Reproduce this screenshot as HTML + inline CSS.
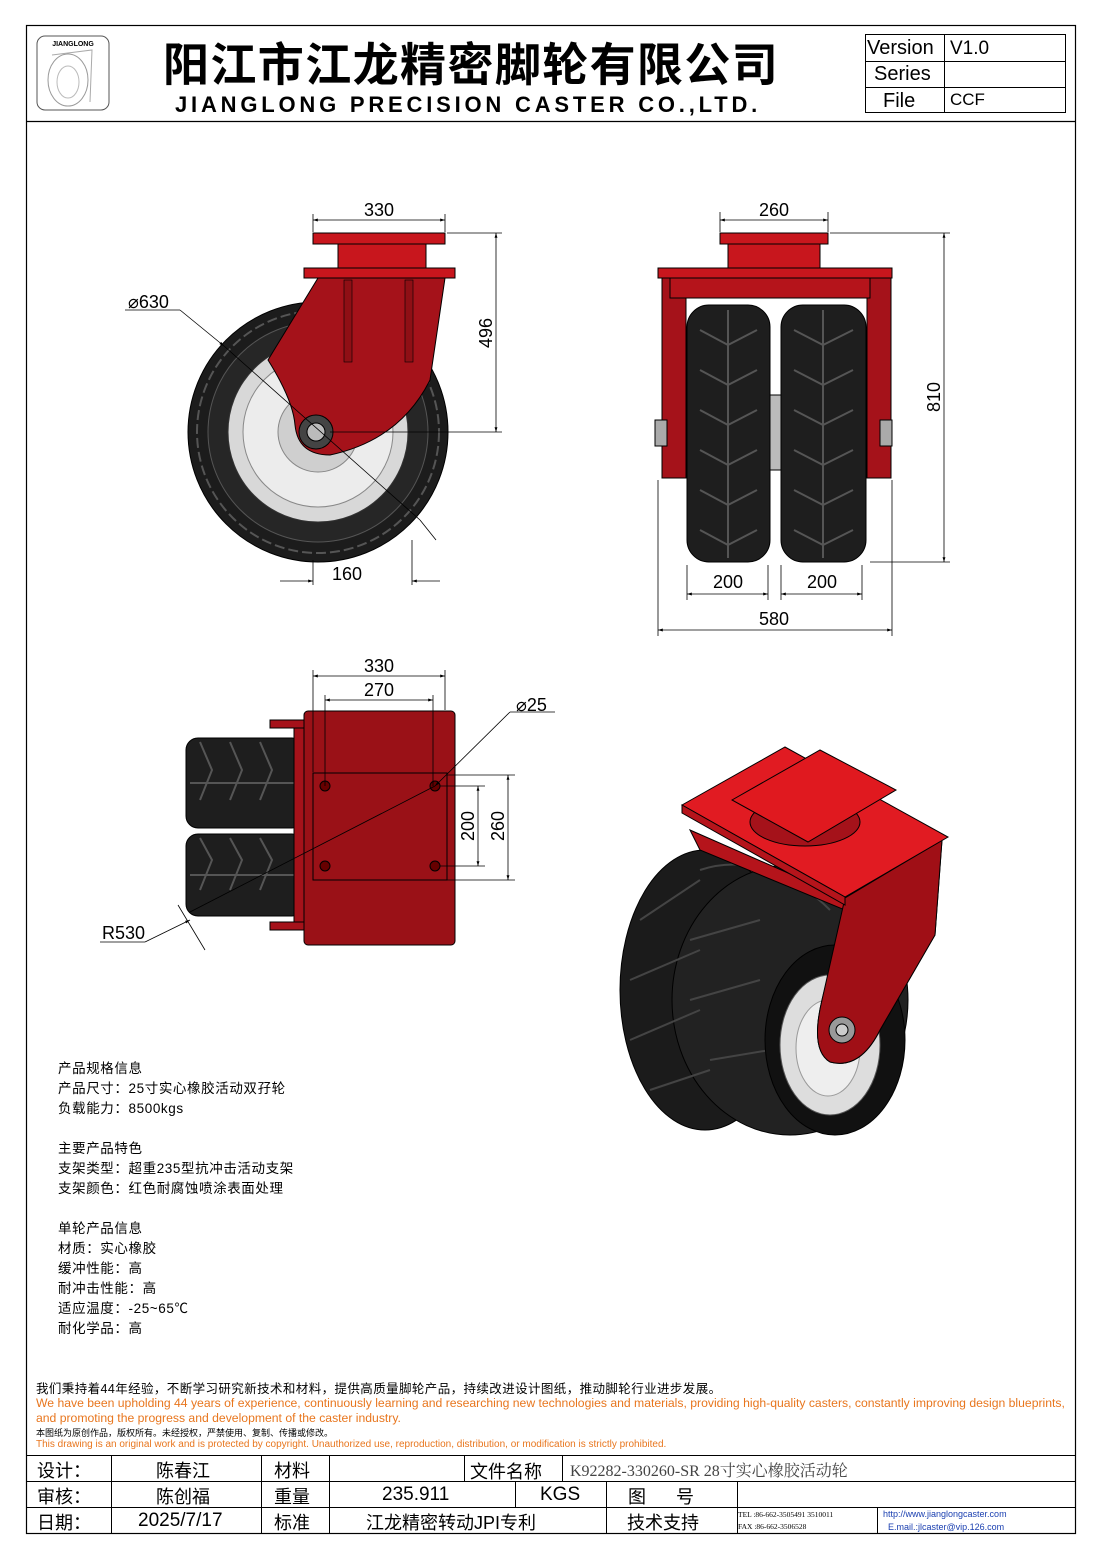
<!DOCTYPE html>
<html><head><meta charset="utf-8">
<style>
html,body{margin:0;padding:0;background:#fff;}
body{width:1102px;height:1559px;position:relative;overflow:hidden;font-family:"Liberation Sans","Noto Sans CJK SC",sans-serif;}
.t{position:absolute;white-space:nowrap;}
.c{font-family:"Liberation Sans","Noto Sans CJK SC",sans-serif;}
</style></head><body>
<svg width="1102" height="1559" style="position:absolute;left:0;top:0" font-family="Liberation Sans, Noto Sans CJK SC, sans-serif">
<defs>
<marker id="a" viewBox="0 0 10 10" refX="10" refY="5" markerWidth="8" markerHeight="6" orient="auto-start-reverse"><path d="M0,2 L10,5 L0,8z" fill="#000"/></marker>
</defs>
<rect x="26.5" y="25.5" width="1049" height="1508" fill="none" stroke="#000" stroke-width="1.2"/>
<line x1="26" y1="121.5" x2="1076" y2="121.5" stroke="#000" stroke-width="1.2"/>
<rect x="37" y="36" width="72" height="74" rx="8" fill="none" stroke="#555" stroke-width="1"/>
<text x="73" y="46" font-size="7" font-weight="bold" text-anchor="middle">JIANGLONG</text>
<ellipse cx="68" cy="80" rx="20" ry="26" fill="none" stroke="#999"/>
<ellipse cx="68" cy="82" rx="11" ry="16" fill="none" stroke="#bbb"/>
<path d="M52,55 L92,50 L90,102" fill="none" stroke="#aaa"/>
<rect x="865.5" y="34.5" width="200" height="78" fill="none" stroke="#000"/>
<line x1="944.5" y1="34" x2="944.5" y2="113" stroke="#000"/>
<line x1="865" y1="61.5" x2="1066" y2="61.5" stroke="#000"/>
<line x1="865" y1="87.5" x2="1066" y2="87.5" stroke="#000"/>

<!-- side view -->
<circle cx="318" cy="432" r="130" fill="#1c1c1c" stroke="#000"/>
<circle cx="318" cy="432" r="121" fill="none" stroke="#555" stroke-width="2" stroke-dasharray="10 4"/>
<circle cx="318" cy="432" r="110" fill="#262626" stroke="#555"/>
<circle cx="318" cy="432" r="90" fill="#d8d8d8" stroke="#333"/>
<circle cx="318" cy="432" r="75" fill="#ececec" stroke="#888"/>
<circle cx="318" cy="432" r="40" fill="#cfcfcf" stroke="#888"/>
<rect x="313" y="233" width="132" height="11" fill="#c8161d" stroke="#000"/>
<rect x="338" y="244" width="88" height="24" fill="#c8161d" stroke="#000"/>
<rect x="304" y="268" width="151" height="10" fill="#c8161d" stroke="#000"/>
<path d="M318,278 L445,278 L430,380 Q400,440 330,455 Q298,455 295,425 Q293,400 268,360 Z" fill="#a5121a" stroke="#000"/>
<rect x="344" y="280" width="8" height="82" fill="#8f0f15" stroke="#000" stroke-width=".6"/>
<rect x="405" y="280" width="8" height="82" fill="#8f0f15" stroke="#000" stroke-width=".6"/>
<circle cx="316" cy="432" r="17" fill="#444" stroke="#000"/>
<circle cx="316" cy="432" r="9" fill="#bbb" stroke="#000"/>
<g stroke="#000" stroke-width="0.8" fill="none">
<line x1="313" y1="214" x2="313" y2="232"/><line x1="445" y1="214" x2="445" y2="232"/>
<line x1="313" y1="220" x2="445" y2="220" marker-start="url(#a)" marker-end="url(#a)"/>
<line x1="447" y1="233" x2="502" y2="233"/><line x1="330" y1="432" x2="502" y2="432"/>
<line x1="496" y1="233" x2="496" y2="432" marker-start="url(#a)" marker-end="url(#a)"/>
<line x1="180" y1="310" x2="224" y2="346" marker-end="url(#a)"/>
<line x1="125" y1="310" x2="180" y2="310"/>
<line x1="224" y1="346" x2="420" y2="520"/>
<line x1="420" y1="520" x2="436" y2="540" />
<line x1="313" y1="560" x2="313" y2="585"/><line x1="412" y1="540" x2="412" y2="585"/>
<line x1="280" y1="581" x2="313" y2="581" marker-end="url(#a)"/>
<line x1="412" y1="581" x2="440" y2="581" marker-start="url(#a)"/>
</g>
<text x="379" y="216" font-size="18" text-anchor="middle">330</text>
<text x="492" y="333" font-size="18" text-anchor="middle" transform="rotate(-90 492 333)">496</text>
<text x="128" y="308" font-size="18">⌀630</text>
<text x="347" y="580" font-size="18" text-anchor="middle">160</text>

<!-- front view -->
<g>
<rect x="687" y="305" width="83" height="257" rx="22" fill="#1e1e1e" stroke="#000"/>
<rect x="781" y="305" width="85" height="257" rx="22" fill="#1e1e1e" stroke="#000"/>
<g stroke="#555" stroke-width="2" fill="none">
<path d="M700,330 L728,345 L757,330 M700,370 L728,385 L757,370 M700,410 L728,425 L757,410 M700,450 L728,465 L757,450 M700,490 L728,505 L757,490 M700,530 L728,545 L757,530"/>
<path d="M794,330 L823,345 L853,330 M794,370 L823,385 L853,370 M794,410 L823,425 L853,410 M794,450 L823,465 L853,450 M794,490 L823,505 L853,490 M794,530 L823,545 L853,530"/>
<line x1="728" y1="310" x2="728" y2="558"/><line x1="823" y1="310" x2="823" y2="558"/>
</g>
<rect x="770" y="395" width="11" height="75" fill="#bbb" stroke="#000"/>
<rect x="720" y="233" width="108" height="11" fill="#c8161d" stroke="#000"/>
<rect x="728" y="244" width="92" height="24" fill="#c8161d" stroke="#000"/>
<rect x="658" y="268" width="234" height="10" fill="#c8161d" stroke="#000"/>
<rect x="662" y="278" width="24" height="200" fill="#a5121a" stroke="#000"/>
<rect x="867" y="278" width="24" height="200" fill="#a5121a" stroke="#000"/>
<rect x="670" y="278" width="200" height="20" fill="#b5141b" stroke="#000"/>
<rect x="655" y="420" width="12" height="26" fill="#aaa" stroke="#000"/>
<rect x="880" y="420" width="12" height="26" fill="#aaa" stroke="#000"/>
</g>
<g stroke="#000" stroke-width="0.8" fill="none">
<line x1="720" y1="212" x2="720" y2="232"/><line x1="828" y1="212" x2="828" y2="232"/>
<line x1="720" y1="220" x2="828" y2="220" marker-start="url(#a)" marker-end="url(#a)"/>
<line x1="830" y1="233" x2="950" y2="233"/><line x1="870" y1="562" x2="950" y2="562"/>
<line x1="944" y1="233" x2="944" y2="562" marker-start="url(#a)" marker-end="url(#a)"/>
<line x1="687" y1="565" x2="687" y2="600"/><line x1="768" y1="565" x2="768" y2="600"/>
<line x1="781" y1="565" x2="781" y2="600"/><line x1="862" y1="565" x2="862" y2="600"/>
<line x1="687" y1="594" x2="768" y2="594" marker-start="url(#a)" marker-end="url(#a)"/>
<line x1="781" y1="594" x2="862" y2="594" marker-start="url(#a)" marker-end="url(#a)"/>
<line x1="658" y1="480" x2="658" y2="636"/><line x1="892" y1="480" x2="892" y2="636"/>
<line x1="658" y1="630" x2="892" y2="630" marker-start="url(#a)" marker-end="url(#a)"/>
</g>
<text x="774" y="216" font-size="18" text-anchor="middle">260</text>
<text x="940" y="397" font-size="18" text-anchor="middle" transform="rotate(-90 940 397)">810</text>
<text x="728" y="588" font-size="18" text-anchor="middle">200</text>
<text x="822" y="588" font-size="18" text-anchor="middle">200</text>
<text x="774" y="625" font-size="18" text-anchor="middle">580</text>

<!-- top view -->
<g>
<rect x="186" y="738" width="118" height="90" rx="12" fill="#1e1e1e" stroke="#000"/>
<rect x="186" y="834" width="118" height="82" rx="12" fill="#1e1e1e" stroke="#000"/>
<g stroke="#555" stroke-width="2" fill="none">
<path d="M190,783 L300,783 M190,875 L300,875 M200,742 L212,770 L200,800 M230,742 L242,770 L230,800 M260,742 L272,770 L260,800 M200,838 L212,860 L200,890 M230,838 L242,860 L230,890 M260,838 L272,860 L260,890"/>
</g>
<rect x="270" y="720" width="34" height="8" fill="#a5121a" stroke="#000"/>
<rect x="270" y="922" width="34" height="8" fill="#a5121a" stroke="#000"/>
<rect x="294" y="728" width="14" height="194" fill="#a5121a" stroke="#000"/>
<rect x="304" y="711" width="151" height="234" rx="4" fill="#9a1117" stroke="#000"/>
<rect x="313" y="773" width="134" height="107" fill="#9a1117" stroke="#000"/>
<circle cx="325" cy="786" r="5" fill="#600" stroke="#000"/><circle cx="435" cy="786" r="5" fill="#600" stroke="#000"/>
<circle cx="325" cy="866" r="5" fill="#600" stroke="#000"/><circle cx="435" cy="866" r="5" fill="#600" stroke="#000"/>
</g>
<g stroke="#000" stroke-width="0.8" fill="none">
<line x1="313" y1="670" x2="313" y2="772"/><line x1="445" y1="670" x2="445" y2="710"/>
<line x1="313" y1="676" x2="445" y2="676" marker-start="url(#a)" marker-end="url(#a)"/>
<line x1="325" y1="695" x2="325" y2="786"/><line x1="433" y1="695" x2="433" y2="786"/>
<line x1="325" y1="700" x2="433" y2="700" marker-start="url(#a)" marker-end="url(#a)"/>
<line x1="447" y1="775" x2="515" y2="775"/><line x1="447" y1="880" x2="515" y2="880"/>
<line x1="440" y1="786" x2="485" y2="786"/><line x1="440" y1="866" x2="485" y2="866"/>
<line x1="478" y1="786" x2="478" y2="866" marker-start="url(#a)" marker-end="url(#a)"/>
<line x1="508" y1="775" x2="508" y2="880" marker-start="url(#a)" marker-end="url(#a)"/>
<line x1="435" y1="786" x2="510" y2="712" marker-start="url(#a)"/>
<line x1="510" y1="712" x2="555" y2="712"/>
<line x1="435" y1="786" x2="190" y2="912"/>
<line x1="100" y1="942" x2="145" y2="942"/>
<line x1="145" y1="942" x2="190" y2="920" marker-end="url(#a)"/>
<line x1="178" y1="905" x2="205" y2="950"/>
</g>
<text x="379" y="672" font-size="18" text-anchor="middle">330</text>
<text x="379" y="696" font-size="18" text-anchor="middle">270</text>
<text x="474" y="826" font-size="18" text-anchor="middle" transform="rotate(-90 474 826)">200</text>
<text x="504" y="826" font-size="18" text-anchor="middle" transform="rotate(-90 504 826)">260</text>
<text x="516" y="711" font-size="18">⌀25</text>
<text x="102" y="939" font-size="18">R530</text>

<!-- iso view -->
<g>
<ellipse cx="705" cy="990" rx="85" ry="140" fill="#1b1b1b" stroke="#000"/>
<ellipse cx="790" cy="1000" rx="118" ry="135" fill="#222" stroke="#000"/>
<g stroke="#444" stroke-width="2" fill="none">
<path d="M640,920 L700,880 M630,980 L700,950 M630,1040 L700,1010 M650,1090 L710,1070 M700,870 C760,850 810,890 830,910 M690,1000 L760,980 M690,940 L760,920 M710,1060 L770,1050"/>
</g>
<ellipse cx="835" cy="1040" rx="70" ry="95" fill="#111" stroke="#000"/>
<ellipse cx="830" cy="1045" rx="50" ry="70" fill="#ddd" stroke="#555"/>
<ellipse cx="828" cy="1048" rx="32" ry="48" fill="#eee" stroke="#999"/>
<path d="M690,830 L845,898 L942,840 L935,935 L880,1030 Q860,1070 830,1062 Q810,1050 822,1000 L845,910 L700,850 Z" fill="#b5141b" stroke="#000"/>
<path d="M845,898 L942,840 L935,935 L880,1030 Q860,1070 830,1062 Q810,1050 822,1000 Z" fill="#a00f16" stroke="#000"/>
<path d="M682,805 L785,747 L948,837 L845,897 Z" fill="#e11b22" stroke="#000"/>
<path d="M682,805 L845,897 L845,905 L682,813 Z" fill="#b5141b" stroke="#000"/>
<ellipse cx="805" cy="822" rx="55" ry="24" fill="#a5121a" stroke="#000"/>
<path d="M732,800 L820,750 L896,790 L808,842 Z" fill="#e0191f" stroke="#000"/>
<circle cx="842" cy="1030" r="13" fill="#999" stroke="#000"/>
<circle cx="842" cy="1030" r="6" fill="#ccc" stroke="#000"/>
</g>

<g stroke="#000" stroke-width="1">
<line x1="26" y1="1455.5" x2="1076" y2="1455.5"/>
<line x1="26" y1="1481.5" x2="1076" y2="1481.5"/>
<line x1="26" y1="1507.5" x2="1076" y2="1507.5"/>
<line x1="111.5" y1="1455" x2="111.5" y2="1533"/>
<line x1="261.5" y1="1455" x2="261.5" y2="1533"/>
<line x1="329.5" y1="1455" x2="329.5" y2="1533"/>
<line x1="464.5" y1="1455" x2="464.5" y2="1481"/>
<line x1="562.5" y1="1455" x2="562.5" y2="1481"/>
<line x1="515.5" y1="1481" x2="515.5" y2="1507"/>
<line x1="606.5" y1="1481" x2="606.5" y2="1533"/>
<line x1="737.5" y1="1481" x2="737.5" y2="1533"/>
<line x1="877.5" y1="1507" x2="877.5" y2="1533"/>
</g>
</svg>

<div class="t" style="left:163px;top:34px;font-size:46px;letter-spacing:1.4px;font-weight:bold;font-family:'Noto Sans CJK SC',sans-serif;line-height:56px">阳江市江龙精密脚轮有限公司</div>
<div class="t" style="left:175px;top:92px;font-size:22px;font-weight:bold;letter-spacing:3.8px">JIANGLONG PRECISION CASTER CO.,LTD.</div>
<div class="t" style="left:867px;top:37px;font-size:20px">Version</div>
<div class="t" style="left:950px;top:38px;font-size:19px">V1.0</div>
<div class="t" style="left:874px;top:63px;font-size:20px">Series</div>
<div class="t" style="left:883px;top:90px;font-size:20px">File</div>
<div class="t" style="left:950px;top:90px;font-size:17px">CCF</div>

<div class="t" style="left:58px;top:1059px;font-size:13.5px;letter-spacing:0.6px;line-height:20px;font-family:'Liberation Sans','Noto Sans CJK SC',sans-serif">产品规格信息<br>产品尺寸：25寸实心橡胶活动双孖轮<br>负载能力：8500kgs<br><br>主要产品特色<br>支架类型：超重235型抗冲击活动支架<br>支架颜色：红色耐腐蚀喷涂表面处理<br><br>单轮产品信息<br>材质：实心橡胶<br>缓冲性能：高<br>耐冲击性能：高<br>适应温度：-25~65℃<br>耐化学品：高</div>

<div class="t" style="left:36px;top:1378px;font-size:12.5px;letter-spacing:0.4px;font-family:'Liberation Sans','Noto Sans CJK SC',sans-serif">我们秉持着44年经验，不断学习研究新技术和材料，提供高质量脚轮产品，持续改进设计图纸，推动脚轮行业进步发展。</div>
<div class="t" style="left:36px;top:1396px;font-size:12.2px;color:#e8761e">We have been upholding 44 years of experience, continuously learning and researching new technologies and materials, providing high-quality casters, constantly improving design blueprints,</div>
<div class="t" style="left:36px;top:1411px;font-size:12.2px;color:#e8761e">and promoting the progress and development of the caster industry.</div>
<div class="t" style="left:36px;top:1426px;font-size:9px;font-family:'Liberation Sans','Noto Sans CJK SC',sans-serif">本图纸为原创作品，版权所有。未经授权，严禁使用、复制、传播或修改。</div>
<div class="t" style="left:36px;top:1439px;font-size:10px;color:#e8761e">This drawing is an original work and is protected by copyright. Unauthorized use, reproduction, distribution, or modification is strictly prohibited.</div>

<div class="t c" style="left:37px;top:1457px;font-size:18px">设计：</div>
<div class="t c" style="left:156px;top:1457px;font-size:18px">陈春江</div>
<div class="t c" style="left:274px;top:1457px;font-size:18px">材料</div>
<div class="t c" style="left:470px;top:1458px;font-size:18px">文件名称</div>
<div class="t" style="left:570px;top:1458px;font-size:16px;color:#444;font-family:'Liberation Serif','Noto Serif CJK SC',serif">K92282-330260-SR 28寸实心橡胶活动轮</div>
<div class="t c" style="left:37px;top:1483px;font-size:18px">审核：</div>
<div class="t c" style="left:156px;top:1483px;font-size:18px">陈创福</div>
<div class="t c" style="left:274px;top:1483px;font-size:18px">重量</div>
<div class="t" style="left:382px;top:1484px;font-size:19px">235.911</div>
<div class="t" style="left:540px;top:1484px;font-size:19px">KGS</div>
<div class="t c" style="left:628px;top:1483px;font-size:18px">图&nbsp;&nbsp;&nbsp;&nbsp;&nbsp;&nbsp;号</div>
<div class="t c" style="left:37px;top:1509px;font-size:18px">日期：</div>
<div class="t" style="left:138px;top:1510px;font-size:19px">2025/7/17</div>
<div class="t c" style="left:274px;top:1509px;font-size:18px">标准</div>
<div class="t c" style="left:366px;top:1509px;font-size:18px">江龙精密转动JPI专利</div>
<div class="t c" style="left:627px;top:1509px;font-size:18px">技术支持</div>
<div class="t" style="left:738px;top:1509px;font-size:7.5px;font-family:'Liberation Serif',serif;line-height:12px">TEL :86-662-3505491 3510011<br>FAX :86-662-3506528</div>
<div class="t" style="left:883px;top:1508px;font-size:9px;color:#1a3fb0;line-height:13px">http://www.jianglongcaster.com<br>&nbsp;&nbsp;E.mail.:jlcaster@vip.126.com</div>
</body></html>
